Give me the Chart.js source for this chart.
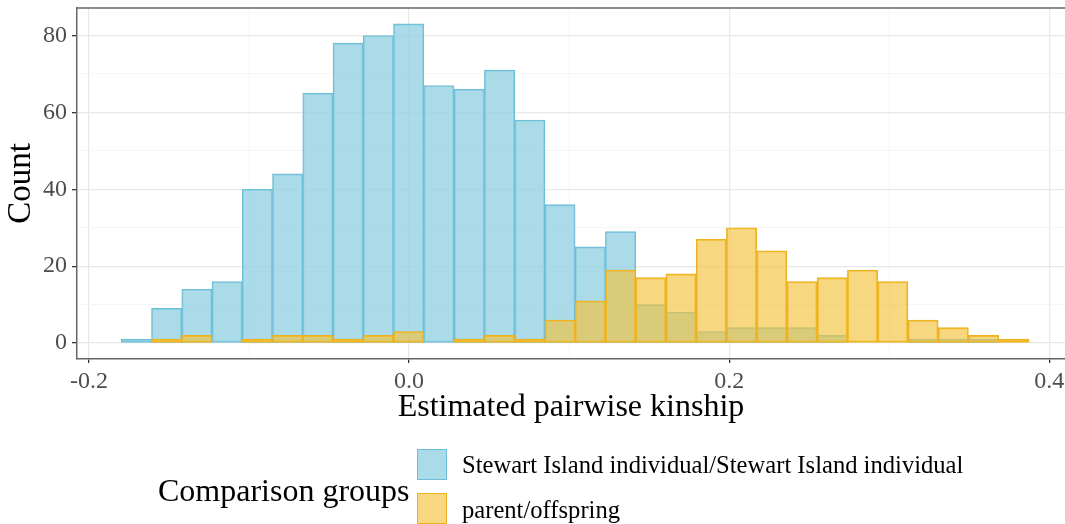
<!DOCTYPE html>
<html>
<head>
<meta charset="utf-8">
<script src="https://cdn.jsdelivr.net/npm/chart.js@4.4.1/dist/chart.umd.min.js"></script>
<style>
  body { margin: 0; background: #fff; }
  #wrap { position: relative; width: 1065px; height: 524px; overflow: hidden; font-family: 'Liberation Serif', 'Times New Roman', serif; }
  #legend-title { position: absolute; left: 158px; top: 472px; font-size: 32px; color: #000; white-space: nowrap; }
  .key { position: absolute; left: 417px; width: 28px; height: 29px; border: 1.5px solid; }
  .lab { position: absolute; left: 462px; font-size: 24.6px; color: #000; white-space: nowrap; }
</style>
</head>
<body>
<div id="wrap">
  <canvas id="hist" width="1065" height="524"></canvas>
  <div id="legend-title">Comparison groups</div>
  <div class="key" style="top:449px; background:rgba(150,210,228,0.8); border-color:#6cbfd6;"></div>
  <div class="lab" style="top:451px;">Stewart Island individual/Stewart Island individual</div>
  <div class="key" style="top:493px; background:rgba(242,194,60,0.65); border-color:#efb21e;"></div>
  <div class="lab" style="top:496px;">parent/offspring</div>
</div>
<script>
// bin centres (estimated pairwise kinship), bin width about 0.0189
const binCentres = [-0.1704, -0.1515, -0.1326, -0.1137, -0.0948, -0.0759, -0.0570, -0.0381, -0.0192, -0.0003,
                    0.0186, 0.0376, 0.0565, 0.0754, 0.0943, 0.1132, 0.1321, 0.1510, 0.1699, 0.1888,
                    0.2077, 0.2266, 0.2455, 0.2644, 0.2833, 0.3022, 0.3211, 0.3400, 0.3589, 0.3778];

// counts
const stewartCounts = [1, 9, 14, 16, 40, 44, 65, 78, 80, 83, 67, 66, 71, 58, 36, 25, 29, 10, 8, 3,
                       4, 4, 4, 2, 0, 0, 1, 1, 1, 0];
const parentCounts = [0, 1, 2, 0, 1, 2, 2, 1, 2, 3, 0, 1, 2, 1, 6, 11, 19, 17, 18, 27,
                      30, 24, 16, 17, 19, 16, 6, 4, 2, 1];

const xTicks = [-0.2, -0.1, 0.0, 0.1, 0.2, 0.3, 0.4];
const yTicks = [0, 10, 20, 30, 40, 50, 60, 70, 80];

const serif = "'Liberation Serif', 'Times New Roman', serif";

function isMajorX(v) { return Math.abs(Math.round(v * 10)) % 2 === 0; }
function isMajorY(v) { return Math.round(v) % 20 === 0; }
// grid helpers, the context has no tick for the axis border
const tickVal = c => (c.tick ? c.tick.value : 0);

// top panel border (ggplot theme_bw style)
const topBorder = {
    id: 'topBorder',
    afterDraw(chart) {
        const { ctx, chartArea } = chart;
        ctx.save();
        ctx.strokeStyle = '#666';
        ctx.lineWidth = 1.5;
        ctx.beginPath();
        ctx.moveTo(chartArea.left, chartArea.top);
        ctx.lineTo(chartArea.right, chartArea.top);
        ctx.stroke();
        ctx.restore();
    }
};

new Chart(document.getElementById('hist'), {
    type: 'bar',
    data: {
        datasets: [
            {
                label: 'parent/offspring',
                data: binCentres.map((x, i) => ({ x: x, y: parentCounts[i] })),
                backgroundColor: 'rgba(242,194,60,0.65)',
                borderColor: '#efb21e',
                borderWidth: 1.2,
                borderSkipped: false
            },
            {
                label: 'Stewart Island individual/Stewart Island individual',
                data: binCentres.map((x, i) => ({ x: x, y: stewartCounts[i] })),
                backgroundColor: 'rgba(150,210,228,0.8)',
                borderColor: '#6cbfd6',
                borderWidth: 1.2,
                borderSkipped: false
            }
        ]
    },
    options: {
        responsive: false,
        animation: false,
        grouped: false,
        barPercentage: 1,
        categoryPercentage: 1,
        layout: { padding: { top: 8, left: 0, right: 0, bottom: 94 } },
        plugins: { legend: { display: false }, tooltip: { enabled: false } },
        scales: {
            x: {
                type: 'linear',
                offset: false,
                min: -0.2075,
                max: 0.4098,
                afterBuildTicks: s => { s.ticks = xTicks.map(v => ({ value: v })); },
                afterFit: s => { s.height = 71; s.paddingLeft = 0; s.paddingRight = 0; },
                ticks: {
                    autoSkip: false,
                    maxRotation: 0,
                    padding: 4,
                    color: '#4d4d4d',
                    font: { family: serif, size: 24 },
                    callback: v => isMajorX(v) ? v.toFixed(1) : ''
                },
                grid: {
                    offset: false,
                    color: c => isMajorX(tickVal(c)) ? '#e8e8e8' : '#f3f3f3',
                    lineWidth: c => isMajorX(tickVal(c)) ? 1.3 : 0.8,
                    tickColor: c => isMajorX(tickVal(c)) ? '#333' : 'rgba(0,0,0,0)',
                    tickLength: 4
                },
                border: { display: true, color: '#666', width: 1.5 },
                title: {
                    display: true,
                    text: 'Estimated pairwise kinship',
                    color: '#000',
                    font: { family: serif, size: 32 },
                    padding: { top: 0, bottom: 3 }
                }
            },
            y: {
                min: -4.15,
                max: 87.15,
                afterBuildTicks: s => { s.ticks = yTicks.map(v => ({ value: v })); },
                afterFit: s => { s.width = 77; s.paddingTop = 0; s.paddingBottom = 0; },
                ticks: {
                    padding: 5,
                    color: '#4d4d4d',
                    font: { family: serif, size: 24 },
                    callback: v => isMajorY(v) ? String(v) : ''
                },
                grid: {
                    color: c => isMajorY(tickVal(c)) ? '#e8e8e8' : '#f3f3f3',
                    lineWidth: c => isMajorY(tickVal(c)) ? 1.3 : 0.8,
                    tickColor: c => isMajorY(tickVal(c)) ? '#333' : 'rgba(0,0,0,0)',
                    tickLength: 5
                },
                border: { display: true, color: '#666', width: 1.5 },
                title: {
                    display: true,
                    text: 'Count',
                    color: '#000',
                    font: { family: serif, size: 33 },
                    padding: { top: 2, bottom: 0 }
                }
            }
        }
    },
    plugins: [topBorder]
});
</script>
</body>
</html>
